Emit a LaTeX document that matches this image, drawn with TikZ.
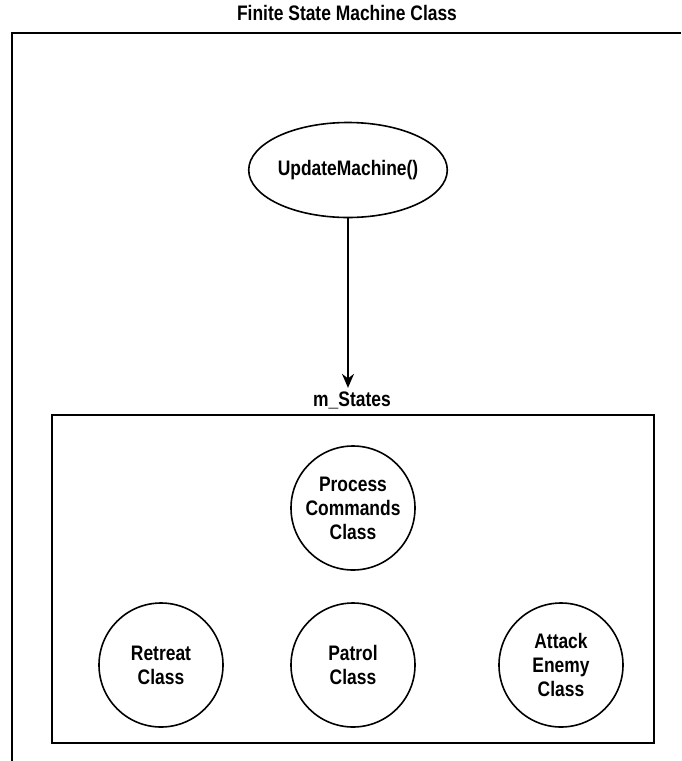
\documentclass[tikz,border=0pt]{standalone}
\usepackage{fontspec}
\setmainfont{Liberation Sans}[FakeStretch=0.83]
\usetikzlibrary{shapes.geometric,arrows.meta}

\tikzset{
    trait/.style={line width=1.6pt},
    texte/.style={font=\fontsize{21}{24}\selectfont\bfseries},
    etat/.style={draw, trait, circle, minimum size=124pt, inner sep=0pt,
        align=center, texte},
    methode/.style={draw, trait, ellipse, minimum width=198pt,
        minimum height=95pt, inner sep=0pt, texte}
}

\begin{document}
\begin{tikzpicture}[x=1pt,y=-1pt]

\useasboundingbox (0,0) rectangle (681,761);

% Machine
\node[texte] (titre) at (347,13)
{Finite State Machine Class};

\draw[trait] (12,761) -- (12,33) -- (681,33);

\node[methode] (update) at (348,170)
{UpdateMachine()};

% Etats
\node[texte] (etats) at (352,400)
{m\_States};

\draw[trait] (52,415) rectangle (654,743);

\node[etat] (process) at (353,508)
{Process\\Commands\\Class};

\node[etat] (retreat) at (161,665)
{Retreat\\Class};

\node[etat] (patrol) at (353,665)
{Patrol\\Class};

\node[etat] (attack) at (561,665)
{Attack\\Enemy\\Class};

\draw[trait, -{Stealth[length=14pt, width=12pt]}] (update.south) -- (update.south |- etats.north);

\end{tikzpicture}
\end{document}
